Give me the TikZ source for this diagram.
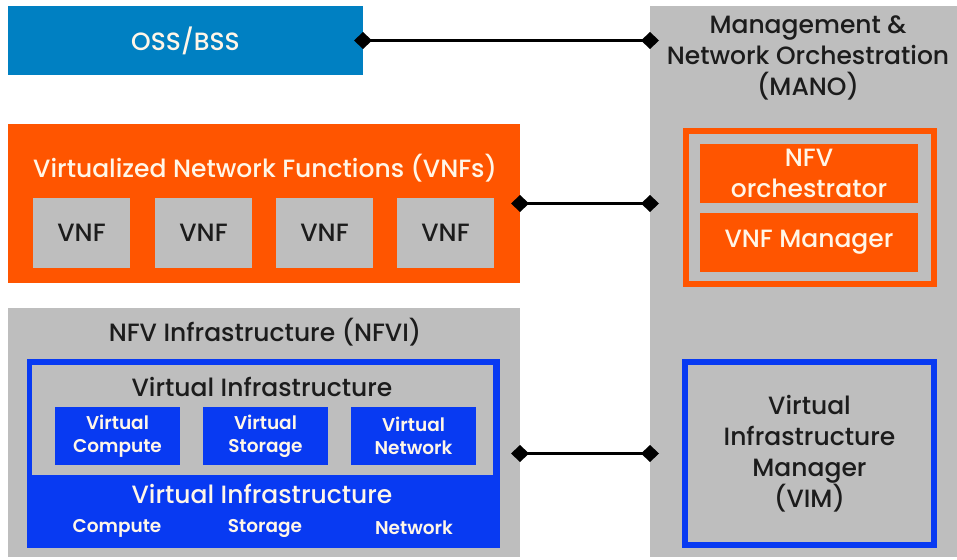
\documentclass[tikz,border=0pt]{standalone}
\usepackage{fontspec}
\setmainfont{Poppins Medium}
\newfontfamily\semibold{Poppins SemiBold}
\usetikzlibrary{arrows.meta}
\definecolor{ossblue}{RGB}{0,128,194}
\definecolor{vnforange}{RGB}{255,85,0}
\definecolor{boxgray}{RGB}{190,190,190}
\definecolor{infrablue}{RGB}{8,58,242}
\definecolor{lighttext}{RGB}{255,246,232}
\definecolor{darktext}{RGB}{28,28,28}
\begin{document}
\begin{tikzpicture}[
        x=1pt,y=-1pt,
        every node/.style={
                inner sep=0pt, outer sep=0pt, align=center
            },
        link/.style={
                line width=2.4pt, {Diamond[length=18pt,width=17pt]}-{Diamond[length=18pt,width=17pt]},
                shorten <=-9pt, shorten >=-9pt
            }
    ]
    \tikzset  {
        blockbox/.style n args = {3}{anchor=north west, minimum width=#1, minimum height=#2, fill=#3},
        framebox/.style n args = {3}{anchor=north west, minimum width=#1, minimum height=#2, draw=#3, line width=6pt},
        bigtext/.style = {font=\fontsize{25}{31}\selectfont},
        smalltext/.style = {font=\semibold\fontsize{18.5}{23}\selectfont},
    }
    \useasboundingbox (0,0) rectangle (957,559);
    \node [blockbox={355pt}{69pt}{ossblue}, text=lighttext, bigtext] (oss) at (8,6) {OSS/BSS};
    \node [blockbox={307pt}{551pt}{boxgray}] (mano) at (650,6) {};
    \node [bigtext, text=darktext] (manotitle) at (808,58) {Management \&\\Network Orchestration\\(MANO)};
    \node [blockbox={512pt}{159pt}{vnforange}] (vnfs) at (8,124) {};
    \node [bigtext, text=lighttext] (vnfstitle) at (265,168) {Virtualized Network Functions (VNFs)};
    \foreach \i/\x in {1/33,2/155,3/276,4/397} {
            \node [blockbox={97pt}{70pt}{boxgray}, text=darktext, bigtext] (vnf\i) at (\x,198) {VNF};
        }
    \node [framebox={248pt}{153pt}{vnforange}] (orchframe) at (686,131) {};
    \node [blockbox={218pt}{59pt}{vnforange}, text=lighttext, bigtext] (nfvo) at (700,144) {NFV\\orchestrator};
    \node [blockbox={218pt}{59pt}{vnforange}, text=lighttext, bigtext] (vnfm) at (700,213) {VNF Manager};
    \node [blockbox={512pt}{249pt}{boxgray}] (nfvi) at (8,308) {};
    \node [bigtext, text=darktext] (nfvititle) at (265,332) {NFV Infrastructure (NFVI)};
    \node [blockbox={473pt}{189pt}{infrablue}] (hwlayer) at (27,359) {};
    \node [blockbox={461pt}{110pt}{boxgray}] (virtlayer) at (32,365) {};
    \node [bigtext, text=darktext] (virttitle) at (262,387) {Virtual Infrastructure};
    \foreach \n/\x/\t in {vcompute/55/Compute,vstorage/203/Storage,vnetwork/351/Network} {
            \node [blockbox={125pt}{58pt}{infrablue}, text=lighttext, smalltext] (\n) at (\x,407) {Virtual\\\t};
        }
    \node [bigtext, text=lighttext] (hwtitle) at (262,494) {Virtual Infrastructure};
    \foreach \n/\x/\t in {compute/117/Compute,storage/265/Storage,network/414/Network} {
            \node [smalltext, text=lighttext] (\n) at (\x,528) {\t};
        }
    \node [framebox={249pt}{183pt}{infrablue}, text=darktext, bigtext] (vim) at (685,362) {Virtual\\Infrastructure\\Manager\\(VIM)};
    \draw [link] (oss.east) -- (oss.east -| mano.west);
    \draw [link] (vnfs.east) -- (vnfs.east -| mano.west);
    \draw [link] (nfvi.east |- vim.west) -- (mano.west |- vim.west);
\end{tikzpicture}
\end{document}
